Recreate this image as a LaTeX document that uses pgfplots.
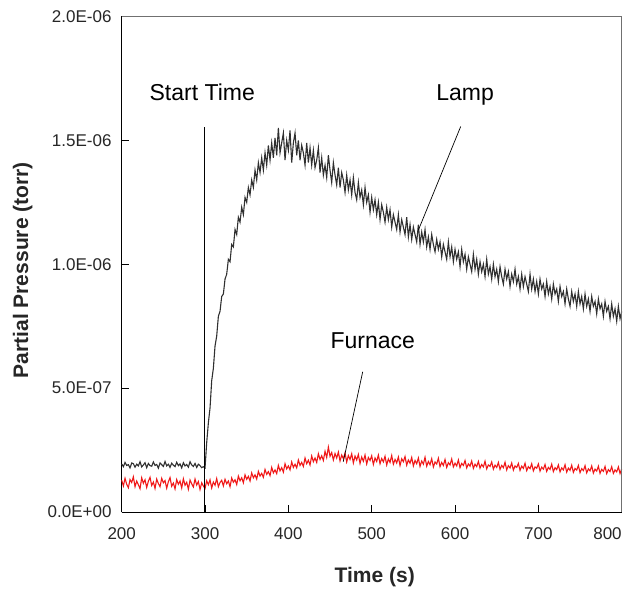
\documentclass[border=0pt]{standalone}
\usepackage{fontspec}
\setmainfont{Liberation Sans}
\usepackage{pgfplots}
\pgfplotsset{compat=1.18}
\usepackage{pgfplotstable}

\definecolor{colLamp}{HTML}{303030}
\definecolor{colFurnace}{HTML}{F01818}
\definecolor{colFrame}{HTML}{707070}

% partial pressure in units of 1E-07 torr
\pgfplotstableread{
x y
200 1.94
202 1.83
204 2.00
206 1.88
208 1.91
210 1.78
212 1.98
214 1.95
216 1.81
218 1.93
220 1.86
222 2.03
224 1.82
226 1.90
228 1.99
230 1.79
232 1.96
234 1.87
236 1.85
238 2.02
240 1.88
242 1.92
244 1.77
246 1.98
248 1.91
250 1.84
252 2.04
254 1.86
256 1.93
258 1.80
260 1.97
262 1.89
264 1.83
266 2.01
268 1.87
270 1.94
272 1.78
274 1.99
276 1.86
278 1.92
280 1.81
282 2.03
284 1.90
286 1.84
288 1.96
290 1.80
292 1.93
294 1.87
296 1.79
298 1.83
300 1.78
302 2.8
304 3.6
306 4.2
308 5.3
310 5.8
312 6.7
314 7.1
316 7.9
318 8.1
320 8.7
322 8.8
324 9.4
326 9.6
328 10.2
330 10.1
332 10.8
334 10.7
336 11.4
338 11.2
340 11.9
342 11.7
344 12.3
346 12.0
348 12.7
350 12.5
352 13.1
354 12.8
356 13.4
358 13.1
360 13.8
362 13.4
364 14.1
366 13.7
368 14.3
370 13.8
372 14.5
374 14.0
376 14.8
378 14.2
380 14.9
382 14.3
384 15.1
386 14.4
388 15.5
390 14.5
392 14.9
394 15.3
396 14.2
398 15.0
400 14.6
402 15.4
404 14.1
406 14.9
408 15.3
410 14.4
412 15.0
414 14.2
416 14.8
418 14.5
420 14.0
422 14.9
424 14.1
426 14.7
428 14.0
430 14.6
432 13.9
434 14.2
436 14.7
438 13.7
440 14.3
442 13.6
444 14.0
446 13.5
448 14.4
450 13.8
452 13.3
454 14.1
456 13.6
458 13.2
460 13.9
462 13.1
464 13.7
466 13.4
468 12.9
470 13.6
472 13.0
474 13.4
476 12.8
478 13.5
480 12.9
482 12.6
484 13.3
486 12.7
488 13.0
490 12.4
492 13.1
494 12.5
496 12.8
498 12.1
500 12.7
502 12.2
504 12.6
506 12.0
508 12.5
510 11.8
512 12.4
514 12.1
516 11.7
518 12.3
520 11.8
522 12.2
524 11.5
526 12.0
528 11.7
530 11.4
532 12.0
534 11.3
536 11.8
538 11.5
540 11.2
542 11.9
544 11.1
546 11.6
548 11.0
550 11.5
552 11.2
554 10.9
556 11.6
558 10.8
560 11.3
562 10.9
564 11.4
566 10.7
568 11.1
570 10.6
572 11.2
574 10.8
576 10.5
578 11.0
580 10.6
582 10.9
584 10.3
586 10.8
588 10.5
590 10.2
592 10.9
594 10.3
596 10.7
598 10.1
600 10.6
602 10.2
604 10.5
606 9.9
608 10.6
610 10.1
612 10.4
614 9.8
616 10.3
618 10.0
620 9.7
622 10.4
624 9.8
626 10.2
628 9.6
630 10.1
632 9.7
634 10.0
636 9.5
638 10.2
640 9.6
642 9.9
644 9.4
646 10.0
648 9.5
650 9.8
652 9.3
654 9.9
656 9.5
658 9.2
660 9.8
662 9.4
664 9.7
666 9.1
668 9.6
670 9.3
672 9.8
674 9.2
676 9.5
678 9.0
680 9.6
682 9.1
684 9.5
686 9.2
688 8.9
690 9.6
692 9.0
694 9.4
696 8.9
698 9.3
700 8.8
702 9.4
704 9.0
706 9.2
708 8.7
710 9.3
712 8.8
714 9.1
716 8.6
718 9.2
720 8.8
722 9.0
724 8.5
726 9.1
728 8.7
730 8.9
732 8.4
734 9.0
736 8.6
738 8.3
740 8.9
742 8.5
744 8.8
746 8.3
748 8.9
750 8.4
752 8.7
754 8.2
756 8.8
758 8.3
760 8.6
762 8.1
764 8.7
766 8.3
768 8.5
770 8.0
772 8.6
774 8.2
776 8.4
778 7.9
780 8.5
782 8.1
784 8.3
786 7.8
788 8.4
790 7.9
792 8.2
794 7.7
796 8.3
798 7.8
800 8.1
}\lampdata

\pgfplotstableread{
x y
200 1.28
202 1.05
204 1.36
206 1.12
208 0.98
210 1.31
212 1.19
214 1.42
216 1.02
218 1.25
220 1.10
222 0.94
224 1.38
226 1.16
228 1.30
230 0.99
232 1.24
234 1.40
236 1.07
238 1.21
240 0.95
242 1.33
244 1.15
246 1.02
248 1.36
250 1.18
252 1.27
254 0.96
256 1.22
258 1.39
260 1.04
262 1.17
264 0.93
266 1.31
268 1.12
270 1.25
272 0.97
274 1.34
276 1.08
278 1.20
280 0.92
282 1.29
284 1.14
286 1.01
288 1.33
290 1.09
292 1.23
294 0.91
296 1.18
298 1.05
300 0.95
302 1.26
304 1.10
306 1.30
308 0.97
310 1.21
312 1.08
314 1.35
316 1.02
318 1.19
320 1.28
322 1.05
324 1.32
326 1.14
328 1.25
330 1.02
332 1.37
334 1.20
336 1.30
338 1.11
340 1.45
342 1.26
344 1.38
346 1.18
348 1.50
350 1.32
352 1.44
354 1.25
356 1.58
358 1.38
360 1.50
362 1.33
364 1.64
366 1.45
368 1.56
370 1.40
372 1.72
374 1.52
376 1.63
378 1.47
380 1.80
382 1.58
384 1.70
386 1.55
388 1.88
390 1.66
392 1.79
394 1.61
396 1.95
398 1.74
400 1.86
402 1.70
404 2.02
406 1.80
408 1.93
410 1.78
412 2.10
414 1.88
416 2.00
418 1.84
420 2.18
422 1.95
424 2.09
426 1.90
428 2.26
430 2.03
432 2.18
434 2.00
436 2.35
438 2.12
440 2.27
442 2.08
444 2.45
446 2.20
448 2.62
450 2.25
452 2.40
454 2.10
456 2.36
458 2.18
460 2.42
462 2.06
464 2.30
466 2.15
468 2.38
470 2.02
472 2.28
474 2.12
476 2.35
478 1.98
480 2.26
482 2.10
484 2.32
486 1.96
488 2.22
490 2.05
492 2.30
494 1.94
496 2.20
498 2.08
500 2.27
502 1.92
504 2.18
506 2.04
508 2.30
510 1.95
512 2.16
514 2.02
516 2.25
518 1.90
520 2.14
522 2.00
524 2.28
526 1.93
528 2.12
530 1.98
532 2.22
534 1.88
536 2.15
538 2.03
540 2.24
542 1.89
544 2.10
546 1.97
548 2.20
550 1.86
552 2.08
554 1.95
556 2.18
558 1.84
560 2.06
562 1.93
564 2.21
566 1.85
568 2.04
570 1.91
572 2.15
574 1.82
576 2.02
578 1.94
580 2.17
582 1.83
584 2.00
586 1.88
588 2.12
590 1.80
592 1.99
594 1.90
596 2.14
598 1.82
600 1.97
602 1.86
604 2.10
606 1.79
608 1.96
610 1.88
612 2.08
614 1.78
616 1.94
618 1.85
620 2.06
622 1.76
624 1.93
626 1.83
628 2.04
630 1.77
632 1.92
634 1.82
636 2.05
638 1.74
640 1.90
642 1.84
644 2.02
646 1.73
648 1.89
650 1.80
652 2.00
654 1.72
656 1.88
658 1.79
660 2.01
662 1.70
664 1.87
666 1.78
668 1.98
670 1.69
672 1.86
674 1.80
676 1.96
678 1.68
680 1.85
682 1.76
684 1.97
686 1.67
688 1.83
690 1.75
692 1.95
694 1.66
696 1.82
698 1.77
700 1.94
702 1.65
704 1.81
706 1.73
708 1.92
710 1.64
712 1.80
714 1.72
716 1.93
718 1.63
720 1.79
722 1.71
724 1.90
726 1.62
728 1.78
730 1.70
732 1.91
734 1.61
736 1.77
738 1.68
740 1.89
742 1.60
744 1.76
746 1.69
748 1.88
750 1.59
752 1.75
754 1.67
756 1.87
758 1.58
760 1.74
762 1.66
764 1.86
766 1.57
768 1.73
770 1.65
772 1.85
774 1.56
776 1.72
778 1.64
780 1.84
782 1.55
784 1.71
786 1.63
788 1.83
790 1.56
792 1.70
794 1.62
796 1.82
798 1.55
800 1.74
}\furnacedata

\begin{document}
\begin{tikzpicture}
% page size = reference size, 1pt per pixel
\path[use as bounding box] (-121.7pt,-78pt) rectangle (509.3pt,512pt);

\begin{axis}[
    at={(0,0)}, anchor=south west,
    scale only axis,
    width=500pt, height=495.5pt,
    xmin=200, xmax=800,
    ymin=0, ymax=20,
    enlargelimits=false,
    axis lines*=left,
    axis line style={black, line width=0.9pt},
    xtick={200,300,400,500,600,700,800},
    xticklabels={200,300,400,500,600,700,\llap{800}},
    ytick={0,5,10,15,20},
    yticklabels={0.0E+00,5.0E-07,1.0E-06,1.5E-06,2.0E-06},
    tick align=inside,
    major tick length=7pt,
    tick style={black, line width=0.9pt},
    /pgf/number format/assume math mode=true,
    tick label style={font=\fontsize{17}{20}\selectfont, text=black!85},
    yticklabel style={inner sep=0pt, xshift=-10pt},
    xticklabel style={inner sep=0pt, yshift=-15pt},
    clip=false,
]

\addplot[colFurnace, line width=1.1pt] table[x=x, y=y] {\furnacedata};
\addplot[colLamp, line width=1.1pt] table[x=x, y=y] {\lampdata};

% gray top and right frame
\draw[colFrame, line width=0.9pt] (rel axis cs:0,1) -- (rel axis cs:1,1) -- (rel axis cs:1,0);

% annotations
\draw[black, line width=0.9pt] (axis cs:299.5,0) -- (axis cs:299.5,15.56);
\draw[black, line width=0.7pt] (axis cs:606.8,15.56) -- (axis cs:555.9,11.37);
\draw[black, line width=0.7pt] (axis cs:489.2,5.66) -- (axis cs:465.9,2.03);

\node[anchor=base, inner sep=0pt, font=\fontsize{23}{27}\selectfont] at (axis cs:296.6,16.61) {Start Time};
\node[anchor=base, inner sep=0pt, font=\fontsize{23}{27}\selectfont] at (axis cs:612,16.61) {Lamp};
\node[anchor=base, inner sep=0pt, font=\fontsize{23}{27}\selectfont] at (axis cs:501.3,6.6) {Furnace};

% axis labels
\path (axis description cs:0.5,0) ++(3pt,-65pt) node[font=\bfseries\fontsize{21}{25}\selectfont, text=black!85] {Time (s)};
\path (axis description cs:0,0.5) ++(-99pt,-6pt) node[rotate=90, font=\bfseries\fontsize{21}{25}\selectfont, text=black!85] {Partial Pressure (torr)};
\end{axis}
\end{tikzpicture}
\end{document}
